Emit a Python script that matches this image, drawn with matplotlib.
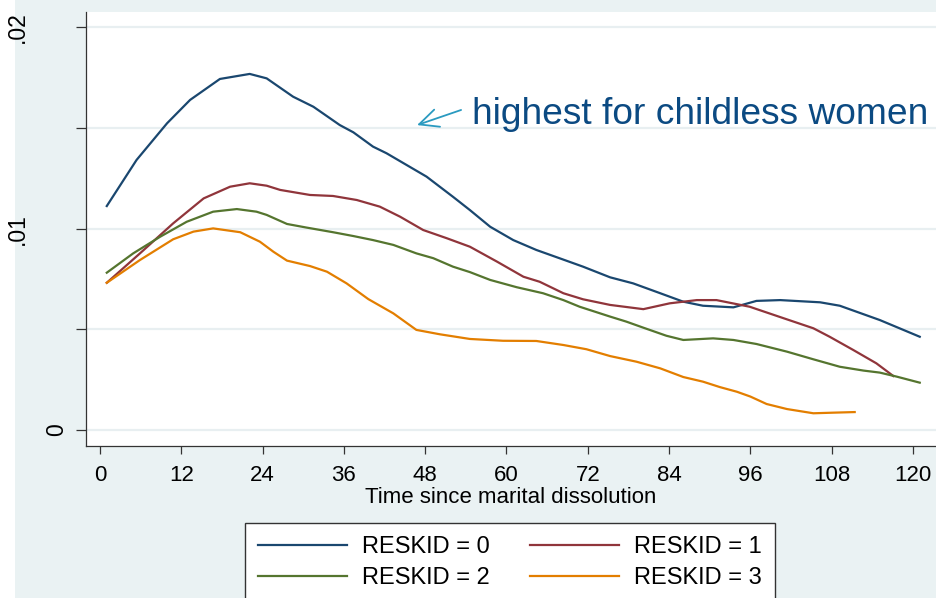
import matplotlib
matplotlib.use("Agg")
import matplotlib.pyplot as plt
from matplotlib.patches import Rectangle
from matplotlib.transforms import blended_transform_factory

plt.rcParams['font.family'] = ['Liberation Sans', 'DejaVu Sans']

# smoothed hazard by RESKID
x_k0 = [1.0, 5.4, 9.9, 13.3, 17.7, 22.1, 24.6, 28.5, 31.5, 35.4, 37.4, 40.3, 42.3,
        48.2, 52.1, 54.6, 57.6, 61.0, 64.4, 67.9, 71.3, 75.3, 78.7, 82.7, 86.1,
        89.0, 93.5, 96.9, 100.4, 106.3, 109.2, 115.1, 121.0]
y_k0 = [0.01112, 0.01341, 0.01523, 0.01639, 0.01743, 0.01768, 0.01746, 0.01655,
        0.01605, 0.01514, 0.01478, 0.01407, 0.01374, 0.01258, 0.01158, 0.01092,
        0.01009, 0.00943, 0.00894, 0.00852, 0.00811, 0.00758, 0.00728, 0.00679,
        0.00637, 0.00617, 0.00609, 0.00641, 0.00645, 0.00634, 0.00617, 0.00546,
        0.00463]

x_k1 = [1.0, 5.9, 10.8, 15.3, 19.2, 22.1, 24.6, 26.6, 31.0, 34.4, 37.9, 41.3, 44.3,
        47.7, 51.2, 54.6, 58.6, 62.5, 64.9, 68.4, 71.3, 75.3, 80.2, 84.1, 88.1,
        91.0, 95.9, 100.9, 105.3, 107.7, 111.2, 114.6, 117.1]
y_k1 = [0.00731, 0.00877, 0.01026, 0.01150, 0.01208, 0.01225, 0.01213, 0.01192,
        0.01167, 0.01162, 0.01142, 0.01109, 0.01059, 0.00993, 0.00952, 0.00910,
        0.00836, 0.00761, 0.00736, 0.00679, 0.00649, 0.00621, 0.00600, 0.00629,
        0.00645, 0.00645, 0.00612, 0.00555, 0.00505, 0.00463, 0.00397, 0.00331,
        0.00268]

x_k2 = [1.0, 4.9, 8.9, 12.8, 16.7, 20.2, 23.1, 24.6, 27.6, 30.5, 34.4, 37.4, 40.3,
        43.3, 46.7, 49.2, 52.1, 54.6, 57.6, 61.5, 65.4, 68.4, 70.8, 75.3, 77.7,
        80.2, 83.6, 86.1, 90.5, 93.5, 96.9, 101.4, 105.3, 109.2, 112.7, 115.1,
        117.6, 121.0]
y_k2 = [0.00781, 0.00877, 0.00960, 0.01034, 0.01084, 0.01097, 0.01084, 0.01068,
        0.01023, 0.01005, 0.00982, 0.00963, 0.00943, 0.00919, 0.00877, 0.00853,
        0.00811, 0.00784, 0.00745, 0.00709, 0.00679, 0.00645, 0.00612, 0.00563,
        0.00538, 0.00508, 0.00468, 0.00447, 0.00455, 0.00447, 0.00427, 0.00389,
        0.00351, 0.00314, 0.00295, 0.00285, 0.00265, 0.00235]

x_k3 = [1.0, 5.9, 10.8, 13.8, 16.7, 20.7, 23.6, 25.6, 27.6, 31.0, 33.5, 36.4, 39.6,
        43.3, 46.7, 50.2, 54.6, 59.5, 64.4, 68.4, 71.8, 75.3, 79.2, 82.7, 86.1,
        89.0, 91.5, 94.0, 96.0, 98.4, 101.4, 105.3, 108.2, 111.4]
y_k3 = [0.00731, 0.00844, 0.00947, 0.00985, 0.01001, 0.00982, 0.00935, 0.00885,
        0.00841, 0.00814, 0.00786, 0.00728, 0.00650, 0.00579, 0.00497, 0.00475,
        0.00452, 0.00443, 0.00442, 0.00422, 0.00401, 0.00367, 0.00339, 0.00306,
        0.00263, 0.00240, 0.00213, 0.00190, 0.00166, 0.00129, 0.00104, 0.00083,
        0.00086, 0.00089]

labels = ['RESKID = 0', 'RESKID = 1', 'RESKID = 2', 'RESKID = 3']
colors = ['#1a476f', '#90353b', '#55752f', '#e37e00']

xticks = list(range(0, 121, 12))
yticks = [0, 0.005, 0.01, 0.015, 0.02]
ytick_labels = {0: '0', 0.01: '.01', 0.02: '.02'}

W, H = 937, 598
fig = plt.figure(figsize=(W / 100, H / 100), dpi=100, facecolor='#eaf2f3')
fig.patches.append(Rectangle((0, 0), 15 / W, 1, transform=fig.transFigure,
                             facecolor='white', edgecolor='none', zorder=-1))

ax = fig.add_axes([85.5 / W, (H - 445.5) / H, (936 - 85.5) / W, (445.5 - 12) / H])
ax.set_facecolor('white')

series = [(x_k0, y_k0), (x_k1, y_k1), (x_k2, y_k2), (x_k3, y_k3)]
handles = []
for (xs, ys), c, lab in zip(series, colors, labels):
    h, = ax.plot(xs, ys, color=c, lw=1.6, label=lab, zorder=3)
    handles.append(h)

ax.set_xlim(-2.14, 123.4)
ax.set_ylim(-0.00077, 0.020755)

for s in ['top', 'right']:
    ax.spines[s].set_visible(False)
for s in ['left', 'bottom']:
    ax.spines[s].set_color('#333333')
    ax.spines[s].set_linewidth(0.9)

ax.set_yticks(yticks)
ax.set_yticklabels([])
ax.yaxis.grid(True, color='#e8eff1', lw=1.6, zorder=0)
ax.tick_params(axis='y', length=7, width=0.9, color='#333333', direction='out')

# vertical y labels, placed like Stata does
tr = blended_transform_factory(ax.transAxes, ax.transData)
for v, t in ytick_labels.items():
    xpos = (56.5 - 85.5) / 850.5 if t == '0' else (17 - 85.5) / 850.5
    ax.text(xpos, v, t, rotation=90, ha='center', va='center', fontsize=16.5,
            transform=tr)

ax.set_xticks(xticks)
ax.set_xticklabels([str(t) for t in xticks], fontsize=16)
ax.tick_params(axis='x', length=6, width=0.9, color='#333333', direction='out', pad=8)

ax.set_xlabel('Time since marital dissolution', fontsize=16, labelpad=1)

ax.annotate('', xy=(46.8, 0.01514), xytext=(53.3, 0.01589),
            arrowprops=dict(arrowstyle='->,head_length=0.55,head_width=0.26',
                            mutation_scale=25, color='#2a9ac0', lw=1.3,
                            shrinkA=0, shrinkB=0))
ax.text(54.9, 0.015194, 'highest for childless women', fontsize=26.7,
        color='#0b4a82', ha='left', va='baseline')

# legend fills row by row in the reference: 0 1 / 2 3
order = [0, 2, 1, 3]
leg = fig.legend(handles=[handles[i] for i in order],
                 labels=[labels[i] for i in order], ncol=2,
                 loc='upper left', bbox_to_anchor=(245 / W, (H - 523) / H),
                 fontsize=17, frameon=True, fancybox=False, edgecolor='#333333',
                 facecolor='white', framealpha=1, handlelength=3.77,
                 handletextpad=0.64, columnspacing=1.7, borderpad=0.55,
                 labelspacing=0.38, borderaxespad=0)
leg.get_frame().set_linewidth(1.0)

fig.savefig('out.png', dpi=100, facecolor=fig.get_facecolor())
